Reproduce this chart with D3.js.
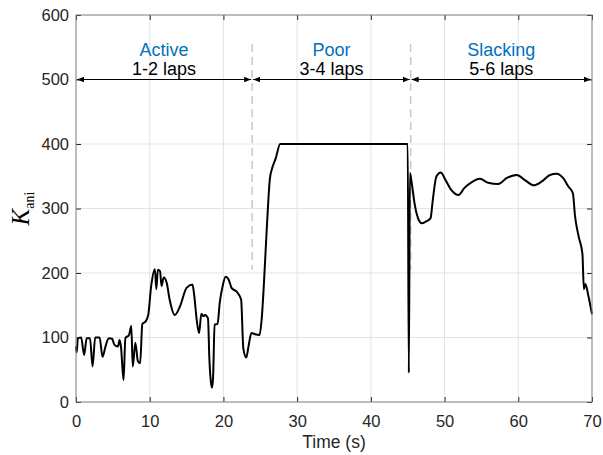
<!DOCTYPE html>
<html>
<head>
<meta charset="utf-8">
<script src="https://cdn.jsdelivr.net/npm/d3@7"></script>
<style>
  body { margin: 0; background: #fff; }
  svg { display: block; font-family: "Liberation Sans", Arial, Helvetica, sans-serif; }
</style>
</head>
<body>
<div id="chart"></div>
<script>
// time samples (s) and K_ani values
var time = [0, 0.1, 0.25, 0.7, 1.1, 1.45, 1.9, 2.25, 2.6, 3.2, 3.6, 4.0, 4.45, 4.9, 5.2, 5.7, 5.9, 6.1, 6.45, 6.7,
    7.2, 7.5, 7.7, 8.05, 8.4, 8.7, 9.0, 9.45, 9.8, 10.2, 10.7, 10.9, 11.1, 11.4, 11.6, 11.9, 12.3, 12.7, 13.4, 14.1,
    15.0, 15.8, 16.0, 16.4, 16.7, 17.0, 17.3, 17.5, 17.9, 18.1, 18.3, 18.45, 18.6, 18.8, 19.2, 19.5, 19.9, 20.3, 20.7, 21.1,
    21.8, 22.4, 22.7, 23.1, 23.4, 23.8, 24.3, 24.9, 25.2, 25.5, 25.9, 26.3, 26.6, 27.1, 27.7, 45.0, 45.15, 45.3, 45.6, 45.9,
    46.4, 46.9, 47.5, 48.1, 48.4, 48.9, 49.5, 50.0, 50.9, 51.9, 52.7, 53.7, 54.8, 55.9, 57.3, 58.4, 59.8, 60.9, 62.1, 63.2,
    64.3, 65.2, 66.1, 66.8, 67.4, 67.7, 68.2, 68.7, 68.9, 69.1, 69.5, 69.9, 70.0];
var kani = [86, 77, 99, 100, 73, 99, 99, 55, 100, 100, 70, 86, 99, 98, 89, 86, 96, 86, 34, 99,
    104, 118, 55, 92, 63, 60, 121, 125, 135, 180, 206, 175, 205, 203, 180, 193, 185, 159, 135, 148,
    177, 182, 169, 125, 107, 137, 133, 135, 130, 65, 31, 22, 39, 120, 121, 154, 180, 194, 190, 177,
    171, 159, 83, 69, 86, 107, 105, 104, 130, 185, 273, 346, 362, 378, 400, 400, 45, 355, 335, 310,
    285, 277, 280, 285, 313, 350, 356, 347, 329, 321, 332, 341, 346, 340, 338, 347, 352, 344, 336, 342,
    352, 354, 347, 334, 324, 288, 256, 230, 175, 183, 165, 142, 136];

// phases
var phaseNames = ["Active", "Poor", "Slacking"];
var phaseLaps = ["1-2 laps", "3-4 laps", "5-6 laps"];
var phaseBounds = [0, 23.9, 45.4, 70];

var xTicks = [0, 10, 20, 30, 40, 50, 60, 70];
var yTicks = [0, 100, 200, 300, 400, 500, 600];

var W = 603, H = 455;
var margin = {top: 15, right: 11, bottom: 53, left: 76};
var w = W - margin.left - margin.right;
var h = H - margin.top - margin.bottom;

var x = d3.scaleLinear().domain([0, 70]).range([0, w]);
var y = d3.scaleLinear().domain([0, 600]).range([h, 0]);

var svg = d3.select("#chart").append("svg")
    .attr("width", W).attr("height", H);

var defs = svg.append("defs");
defs.append("marker")
    .attr("id", "ah")
    .attr("viewBox", "0 0 10 10")
    .attr("refX", 10).attr("refY", 5)
    .attr("markerWidth", 7).attr("markerHeight", 7)
    .attr("markerUnits", "userSpaceOnUse")
    .attr("orient", "auto-start-reverse")
    .append("path").attr("d", "M0,1 L10,5 L0,9 Z").attr("fill", "#000");

var g = svg.append("g").attr("transform", "translate(" + margin.left + "," + margin.top + ")");

// grid
g.selectAll(".vg").data(xTicks.slice(1, -1)).enter().append("line")
    .attr("x1", function(d) { return x(d); }).attr("x2", function(d) { return x(d); })
    .attr("y1", 0).attr("y2", h)
    .attr("stroke", "#e3e3e3").attr("stroke-width", 1);
g.selectAll(".hg").data(yTicks.slice(1, -1)).enter().append("line")
    .attr("y1", function(d) { return y(d); }).attr("y2", function(d) { return y(d); })
    .attr("x1", 0).attr("x2", w)
    .attr("stroke", "#e3e3e3").attr("stroke-width", 1);

// phase separators
g.selectAll(".sep").data(phaseBounds.slice(1, -1)).enter().append("line")
    .attr("x1", function(d) { return x(d); }).attr("x2", function(d) { return x(d); })
    .attr("y1", y(555)).attr("y2", y(205))
    .attr("stroke", "#c6c6d8").attr("stroke-width", 1.5)
    .attr("stroke-dasharray", "8,5");

// K_ani line
var pts = time.map(function(t, i) { return [t, kani[i]]; });
var line = d3.line()
    .x(function(d) { return x(d[0]); })
    .y(function(d) { return y(d[1]); })
    .curve(d3.curveMonotoneX);
g.append("path").datum(pts)
    .attr("d", line)
    .attr("fill", "none")
    .attr("stroke", "#000")
    .attr("stroke-width", 2)
    .attr("stroke-linejoin", "round");

// phase arrows and labels
for (var i = 0; i < phaseNames.length; i++) {
    var a = phaseBounds[i], b = phaseBounds[i + 1];
    g.append("line")
        .attr("x1", x(a) + 1).attr("x2", x(b) - 1)
        .attr("y1", y(500)).attr("y2", y(500))
        .attr("stroke", "#000").attr("stroke-width", 1)
        .attr("marker-start", "url(#ah)").attr("marker-end", "url(#ah)");
    g.append("text")
        .attr("x", x((a + b) / 2)).attr("y", y(500) - 24)
        .attr("text-anchor", "middle")
        .attr("font-size", 18).attr("fill", "#0072BD")
        .text(phaseNames[i]);
    g.append("text")
        .attr("x", x((a + b) / 2)).attr("y", y(500) - 5)
        .attr("text-anchor", "middle")
        .attr("font-size", 18).attr("fill", "#000")
        .text(phaseLaps[i]);
}

// axes (ticks inside, box on)
var axisColor = "#7a7a7a";
function styleAxis(sel) {
    sel.select(".domain").remove();
    sel.selectAll(".tick line").attr("stroke", "#262626");
    sel.selectAll(".tick text").attr("fill", "#262626").attr("font-size", 16.5)
        .attr("font-family", "'Liberation Sans', Arial, sans-serif");
}
g.append("g").attr("transform", "translate(0," + h + ")")
    .call(d3.axisBottom(x).tickValues(xTicks).tickSizeInner(-5).tickSizeOuter(0).tickPadding(13))
    .call(styleAxis);
g.append("g")
    .call(d3.axisTop(x).tickValues(xTicks).tickSizeInner(-5).tickSizeOuter(0).tickFormat(""))
    .call(styleAxis);
g.append("g")
    .call(d3.axisLeft(y).tickValues(yTicks).tickSizeInner(-5).tickSizeOuter(0).tickPadding(7))
    .call(styleAxis);
g.append("g").attr("transform", "translate(" + w + ",0)")
    .call(d3.axisRight(y).tickValues(yTicks).tickSizeInner(-5).tickSizeOuter(0).tickFormat(""))
    .call(styleAxis);

g.append("rect")
    .attr("width", w).attr("height", h)
    .attr("fill", "none").attr("stroke", axisColor).attr("stroke-width", 1);

// axis labels
svg.append("text")
    .attr("x", margin.left + w / 2).attr("y", 448)
    .attr("text-anchor", "middle")
    .attr("font-size", 17.5).attr("fill", "#262626")
    .text("Time (s)");

var yl = svg.append("text")
    .attr("transform", "translate(29," + (margin.top + h / 2) + ") rotate(-90)")
    .attr("text-anchor", "middle")
    .attr("font-family", "'Liberation Serif', 'Times New Roman', serif")
    .attr("fill", "#000");
yl.append("tspan").attr("font-style", "italic").attr("font-size", 25).text("K");
yl.append("tspan").attr("font-size", 14).attr("dy", 5).text("ani");
</script>
</body>
</html>
